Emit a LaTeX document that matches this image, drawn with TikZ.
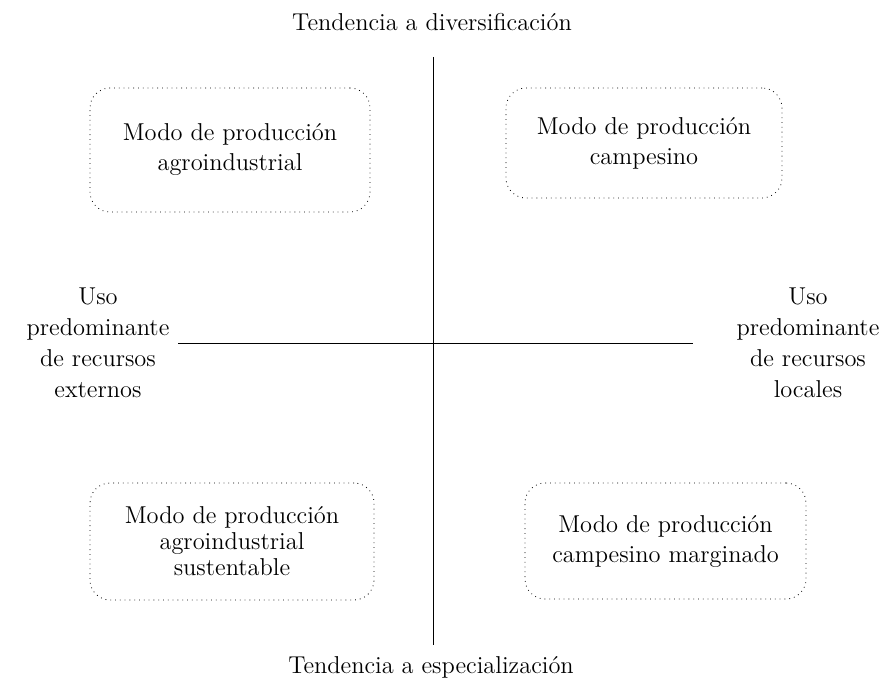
\documentclass[tikz,border=0pt]{standalone}
\usepackage{fontspec}
\tikzset{
  modobox/.style={draw, dotted, rounded corners=10pt, align=center, font=\fontsize{12.2}{15}\selectfont},
  eje/.style={align=center, font=\fontsize{12.2}{15.5}\selectfont}
}
\begin{document}
\begin{tikzpicture}[x=0.5pt, y=-0.5pt]  %cuadrantes
        \useasboundingbox (0,0) rectangle (882,689);
        \coordinate (arriba) at (433,57);
        \coordinate (abajo) at (433,645);
        \coordinate (izq) at (178,343);
        \coordinate (der) at (693,343);
        \draw (arriba) -- (abajo);
        \draw (izq) -- (der);
        \node[eje] (div) at (432,22) {Tendencia a diversificación};
        \node[eje] (esp) at (431,667) {Tendencia a especialización};
        \node[eje] (ext) at (98,343) {Uso\\predominante\\de recursos\\externos};
        \node[eje] (loc) at (808,343) {Uso\\predominante\\de recursos\\locales};
        \node[modobox, minimum width=140pt, minimum height=62pt] (agro) at (230,150) {Modo de producción\\agroindustrial};
        \node[modobox, minimum width=138pt, minimum height=55pt] (camp) at (644,143) {Modo de producción\\campesino};
        \node[modobox, minimum width=142pt, minimum height=58.5pt, font=\fontsize{12.2}{13}\selectfont] (sust) at (232,541.5) {Modo de producción\\agroindustrial\\sustentable};
        \node[modobox, minimum width=140.5pt, minimum height=58pt] (marg) at (665.5,541) {Modo de producción\\campesino marginado};
    \end{tikzpicture}
\end{document}
